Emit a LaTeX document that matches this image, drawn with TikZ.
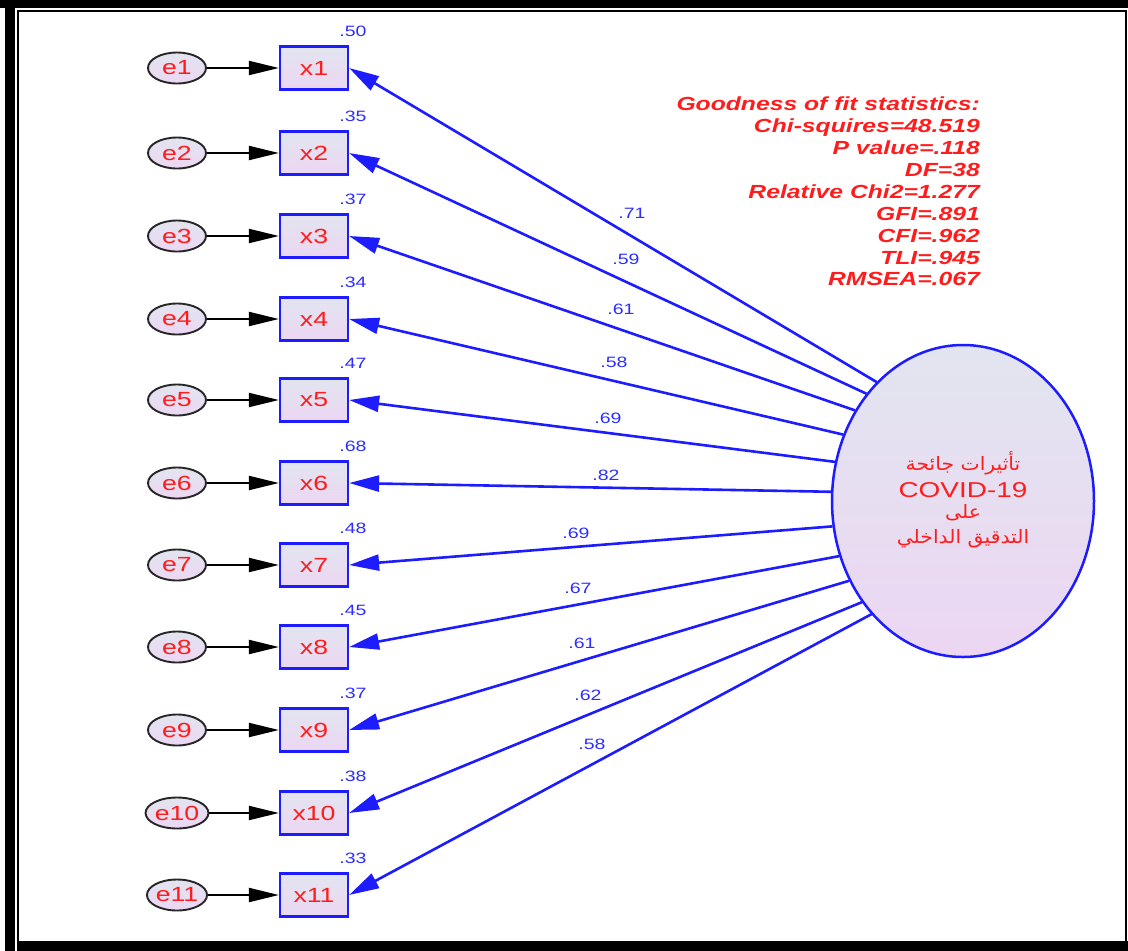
\documentclass[tikz,border=0pt]{standalone}
\usepackage{fontspec}
\setmainfont{Liberation Sans}[FakeStretch=1.3]
\newfontfamily\arabicfont[Script=Arabic,FakeStretch=1.1]{DejaVu Sans}
\TeXXeTstate=1
\usetikzlibrary{arrows.meta,shapes.geometric}
\definecolor{tred}{RGB}{255,28,28}
\definecolor{lblue}{RGB}{28,28,255}
\definecolor{cblue}{RGB}{45,45,255}
\definecolor{ftop}{RGB}{226,229,240}
\definecolor{fbot}{RGB}{236,214,242}
\tikzset{
  errnode/.style={ellipse, draw=black!85, line width=1.9pt, minimum width=58pt, minimum height=31pt, inner sep=0pt,
    top color=ftop, bottom color=fbot, text=tred, font=\fontsize{20.5}{21}\selectfont},
  obsnode/.style={rectangle, draw=lblue, line width=2.2pt, minimum width=68pt, minimum height=43pt, inner sep=0pt,
    top color=ftop, bottom color=fbot, text=tred, font=\fontsize{20.5}{21}\selectfont},
  latnode/.style={ellipse, draw=lblue, line width=2.5pt, minimum width=262pt, minimum height=312pt, inner sep=0pt,
    top color=ftop, bottom color=fbot},
  errarrow/.style={draw=black, line width=2pt, -{Triangle[length=30pt,width=14pt]}},
  patharrow/.style={draw=lblue, line width=2.6pt, -{Triangle[length=30pt,width=16pt]}},
  coef/.style={text=cblue, font=\fontsize{15}{16}\selectfont, inner sep=0pt},
  stat/.style={text=tred, font=\fontsize{19}{20}\selectfont\bfseries\itshape, inner sep=0pt, anchor=base east},
  lattext/.style={text=tred, inner sep=0pt, anchor=base},
}
\begin{document}
\begin{tikzpicture}[x=1pt,y=-1pt]
\useasboundingbox (0,0) rectangle (1128,951);
% frame
\fill[black] (0,0) rectangle (1128,8);
\fill[black] (5,0) rectangle (15,951);
\fill[black] (17,941) rectangle (1128,951);
\draw[black, line width=2pt] (17.8,941) -- (17.8,10.6) -- (1126.2,10.6) -- (1126.2,941);

% latent
\node[latnode] (F) at (963,501) {};
\node[lattext, font=\arabicfont\fontsize{18.5}{19}\selectfont] (t1) at (963,470) {\beginR تأثيرات جائحة\endR};
\node[lattext, font=\fontsize{21.5}{22}\selectfont] (t2) at (963,497) {COVID-19};
\node[lattext, font=\arabicfont\fontsize{18.5}{19}\selectfont] (t3) at (963,518) {\beginR على\endR};
\node[lattext, font=\arabicfont\fontsize{18.5}{19}\selectfont] (t4) at (963,543) {\beginR التدقيق الداخلي\endR};

% indicators
\foreach \i/\y/\r/\ang in {1/68/.50/126,2/153/.35/132,3/236/.37/140,4/319/.34/151,5/400/.47/163,6/483/.68/176.5,
  7/565/.48/191,8/647/.45/204,9/730/.37/215,10/813/.38/225,11/895/.33/231.5}{
  \node[errnode] (e\i) at (177,\y) {e\i};
  \node[obsnode] (x\i) at (314,\y) {x\i};
  \node[coef, anchor=base] (r\i) at (353,\y-32) {\r};
  \draw[errarrow] (e\i) -- (x\i);
  \draw[patharrow] (F.\ang) -- (x\i.east);
}

% loadings
\foreach \i/\px/\py/\l in {1/632/213/.71,2/626/259/.59,3/621/309/.61,4/614/362/.58,5/608/418/.69,6/606/475/.82,
  7/576/533/.69,8/578/588/.67,9/582/643/.61,10/588/695/.62,11/592/744/.58}{
  \node[coef] (l\i) at (\px,\py) {\l};
}

% fit statistics
\foreach \i/\yb/\s in {1/110/Goodness of fit statistics:,2/132/Chi-squires=48.519,3/154/P value=.118,4/176/DF=38,
  5/198/Relative Chi2=1.277,6/220/GFI=.891,7/242/CFI=.962,8/264/TLI=.945,9/285/RMSEA=.067}{
  \node[stat] (s\i) at (980,\yb) {\s};
}
\end{tikzpicture}
\end{document}
